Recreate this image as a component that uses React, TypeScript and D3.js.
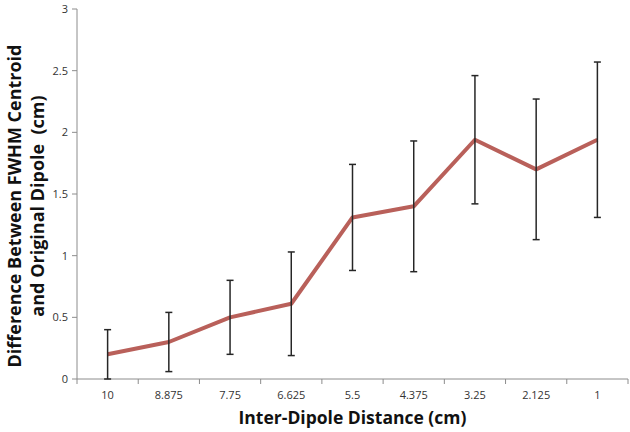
import React from "react";
import * as d3 from "d3";

const categories = ["10", "8.875", "7.75", "6.625", "5.5", "4.375", "3.25", "2.125", "1"];
const values = [0.2, 0.3, 0.5, 0.61, 1.31, 1.4, 1.94, 1.7, 1.94];
const errors = [0.2, 0.24, 0.3, 0.42, 0.43, 0.53, 0.52, 0.57, 0.63];
const yTicks = [0, 0.5, 1, 1.5, 2, 2.5, 3];

const W = 630, H = 432;
const M = { left: 77, right: 2, top: 9, bottom: 53 };

export default function App() {
  const x = d3.scaleBand<string>().domain(categories).range([M.left, W - M.right]);
  const y = d3.scaleLinear().domain([0, 3]).range([H - M.bottom, M.top]);
  const cx = (c: string) => (x(c) as number) + x.bandwidth() / 2;
  const line = d3
    .line<number>()
    .x((_, i) => cx(categories[i]))
    .y((d) => y(d));
  const font = "Open Sans, Lato, sans-serif";
  const y0 = y(0);
  const bounds = [...categories.map((c) => x(c) as number), W - M.right];
  return (
    <svg width={W} height={H} style={{ position: "absolute", left: 0, top: 0 }} fontFamily={font}>
      <rect width={W} height={H} fill="#fff" />
      <line x1={M.left} x2={M.left} y1={M.top} y2={y0} stroke="#8c8c8c" strokeWidth={1} />
      <line x1={M.left} x2={W - M.right} y1={y0} y2={y0} stroke="#8c8c8c" strokeWidth={1} />
      {yTicks.map((t) => (
        <g key={t}>
          <line x1={M.left - 5} x2={M.left} y1={y(t)} y2={y(t)} stroke="#8c8c8c" />
          <text x={M.left - 9} y={y(t)} dy="0.35em" textAnchor="end" fontSize={11} fill="#333">
            {t}
          </text>
        </g>
      ))}
      {bounds.map((b, i) => (
        <line key={i} x1={b} x2={b} y1={y0} y2={y0 + 5} stroke="#8c8c8c" />
      ))}
      {categories.map((c) => (
        <text key={c} x={cx(c)} y={y0 + 20} textAnchor="middle" fontSize={11} fill="#333">
          {c}
        </text>
      ))}
      <path d={line(values) as string} fill="none" stroke="#b9605a" strokeWidth={4} strokeLinejoin="round" />
      {categories.map((c, i) => {
        const xc = cx(c);
        const top = y(values[i] + errors[i]);
        const bot = y(Math.max(0, values[i] - errors[i]));
        return (
          <g key={c} stroke="#262626" strokeWidth={1.5}>
            <line x1={xc} x2={xc} y1={top} y2={bot} />
            <line x1={xc - 3.5} x2={xc + 3.5} y1={top} y2={top} />
            <line x1={xc - 3.5} x2={xc + 3.5} y1={bot} y2={bot} />
          </g>
        );
      })}
      <text x={(M.left + W - M.right) / 2} y={424} textAnchor="middle" fontSize={17.5} fontWeight="bold" fill="#111">
        Inter-Dipole Distance (cm)
      </text>
      <g transform="translate(15,206) rotate(-90)">
        <text x={0} y={0} dy="0.35em" textAnchor="middle" fontSize={18} fontWeight="bold" fill="#111">
          Difference Between FWHM Centroid
        </text>
        <text x={0} y={23} dy="0.35em" textAnchor="middle" fontSize={18} fontWeight="bold" fill="#111" style={{ whiteSpace: "pre" }}>
          {"and Original Dipole  (cm)"}
        </text>
      </g>
    </svg>
  );
}
